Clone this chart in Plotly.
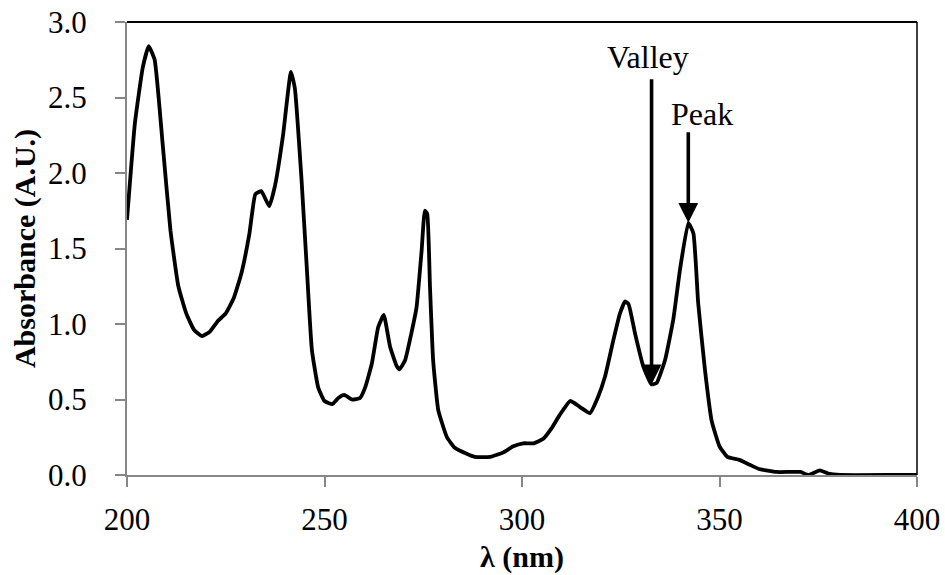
import plotly.graph_objects as go

# Absorption spectrum (wavelength in nm, absorbance in A.U.)
wavelength = [
    200, 202, 204, 205.5, 207, 209, 211, 213, 215, 217, 219, 221, 223, 225,
    227, 229, 231, 232.5, 234, 236, 237.5, 239.5, 241.5, 242.5, 244.2, 245.5,
    246.8, 248.4, 250, 252, 253.5, 255, 257, 259, 260.3, 262, 263.6, 265,
    266.6, 268.3, 269, 270.4, 272, 273.3, 274.6, 275.4, 276, 276.7, 277.5,
    278.8, 281, 283, 286, 288, 292, 295.3, 297.8, 300.3, 303, 305.4, 307.5,
    309.6, 312.2, 314.7, 317.2, 319.3, 321, 323.1, 324.8, 326.1, 327, 328.6,
    330.7, 332.8, 334.1, 336.2, 338.3, 340, 342.1, 343.4, 344.6, 346.3, 348,
    350, 352, 355, 357.5, 360, 364.5, 370.5, 372.5, 375.4, 377.5, 380.5, 394,
    395.3, 400,
]
absorbance = [
    1.69, 2.33, 2.70, 2.84, 2.75, 2.20, 1.62, 1.25, 1.07, 0.96, 0.92, 0.95,
    1.02, 1.07, 1.17, 1.34, 1.60, 1.86, 1.88, 1.78, 1.92, 2.25, 2.67, 2.56,
    1.95, 1.38, 0.83, 0.58, 0.49, 0.47, 0.51, 0.53, 0.50, 0.51, 0.58, 0.74,
    0.98, 1.06, 0.85, 0.72, 0.70, 0.76, 0.94, 1.11, 1.49, 1.75, 1.73, 1.25,
    0.76, 0.43, 0.25, 0.18, 0.14, 0.12, 0.12, 0.15, 0.19, 0.21, 0.21, 0.24,
    0.31, 0.40, 0.49, 0.45, 0.41, 0.52, 0.65, 0.89, 1.07, 1.15, 1.13, 0.94,
    0.72, 0.60, 0.61, 0.76, 1.03, 1.36, 1.67, 1.60, 1.14, 0.70, 0.36, 0.19,
    0.12, 0.10, 0.07, 0.04, 0.02, 0.02, 0.00, 0.03, 0.01, 0.00, 0.00, 0.00,
    0.00,
]

x_ticks = [200, 250, 300, 350, 400]
y_ticks = [0.0, 0.5, 1.0, 1.5, 2.0, 2.5, 3.0]

# Marked features: the valley and peak between 328 and 350 nm
pairs = list(zip(wavelength, absorbance))
valley = min((p for p in pairs if 328 <= p[0] <= 338), key=lambda p: p[1])
peak = max((p for p in pairs if 336 <= p[0] <= 350), key=lambda p: p[1])

FONT = "Liberation Serif"
AXIS_GREY = "#878787"
TICK_SIZE = 31

fig = go.Figure()
fig.add_trace(go.Scatter(
    x=wavelength, y=absorbance, mode="lines",
    line=dict(color="black", width=3.8, shape="spline", smoothing=0.4),
    showlegend=False, hoverinfo="skip",
))

fig.update_layout(
    width=945, height=575,
    margin=dict(l=127, r=28, t=22, b=100),
    paper_bgcolor="white", plot_bgcolor="white",
    font=dict(family=FONT, color="black", size=TICK_SIZE),
    showlegend=False,
)

fig.update_xaxes(
    range=[200, 400], tickvals=x_ticks, ticktext=[str(v) for v in x_ticks],
    showgrid=False, zeroline=False, automargin=False,
    showline=True, linecolor=AXIS_GREY, linewidth=2,
    ticks="outside", ticklen=10, tickwidth=2, tickcolor=AXIS_GREY,
    ticklabelstandoff=6,
    tickfont=dict(family=FONT, size=TICK_SIZE, color="black"),
    title=dict(text="<b>λ (nm)</b>", font=dict(family=FONT, size=30, color="black"),
               standoff=10),
)
fig.update_yaxes(
    range=[0, 3], tickvals=y_ticks, ticktext=[f"{v:.1f}" for v in y_ticks],
    showgrid=False, zeroline=False, automargin=False,
    showline=True, linecolor=AXIS_GREY, linewidth=2,
    ticks="outside", ticklen=10, tickwidth=2, tickcolor=AXIS_GREY,
    ticklabelstandoff=22,
    tickfont=dict(family=FONT, size=TICK_SIZE, color="black"),
    title=dict(text="<b>Absorbance (A.U.)</b>", font=dict(family=FONT, size=30, color="black"),
               standoff=4),
)

# Black frame on the top and right edges of the plot area
fig.add_shape(type="line", xref="paper", yref="paper", x0=0, x1=1, y0=1, y1=1,
              line=dict(color="black", width=2))
fig.add_shape(type="line", xref="paper", yref="paper", x0=1, x1=1, y0=0, y1=1,
              line=dict(color="black", width=1.5))

# Arrows pointing at the valley and the peak
for (wx, wy), tail_y, label, label_y, label_dx in [
    (valley, 2.63, "Valley", 2.77, -1.0),
    (peak, 2.28, "Peak", 2.39, 3.5),
]:
    fig.add_annotation(
        x=wx, y=wy, ax=wx, ay=tail_y, xref="x", yref="y", axref="x", ayref="y",
        text="", showarrow=True, arrowhead=2, arrowsize=1.1, arrowwidth=3.6,
        arrowcolor="black", standoff=0,
    )
    fig.add_annotation(
        x=wx + label_dx, y=label_y, xref="x", yref="y", text=label,
        showarrow=False, font=dict(family=FONT, size=32, color="black"),
        xanchor="center", yanchor="middle",
    )

fig.write_html("out.html")
